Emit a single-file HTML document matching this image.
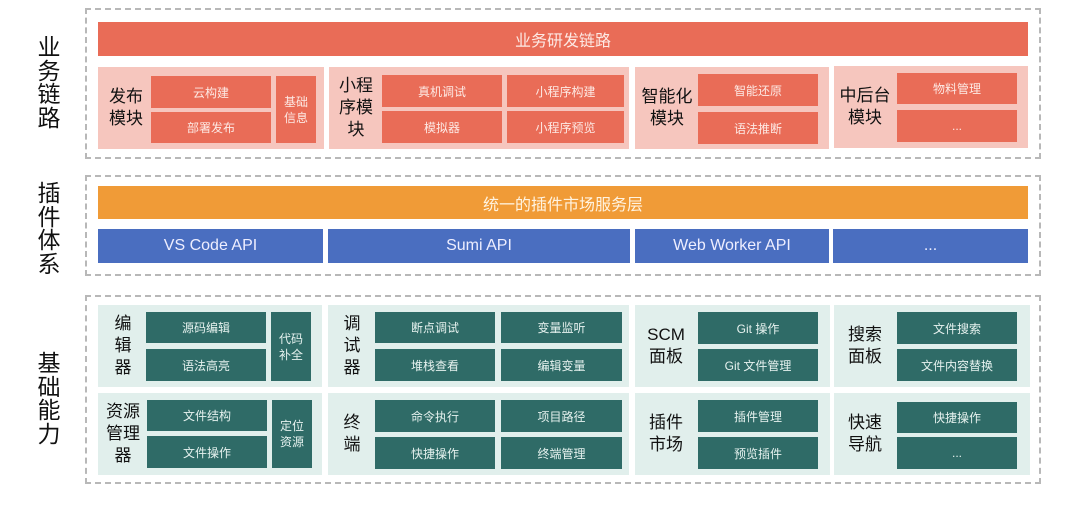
<!DOCTYPE html>
<html><head><meta charset="utf-8"><style>
body{margin:0;width:1079px;height:530px;background:#fff;position:relative;overflow:hidden;font-family:"Liberation Sans","Noto Sans CJK SC",sans-serif}
div{position:absolute;box-sizing:border-box}
.c{display:flex;align-items:center;justify-content:center;text-align:center}
.dash{border:2px dashed #b8b8b8}
.side{left:34px;width:30px;font-size:23px;line-height:23.5px;color:#111;text-align:center}
.r{background:#e96c57;color:#fde9e4;font-size:12px}
.pk{background:#f6c6be}
.t{background:#2f6b67;color:#e6f2ef;font-size:12px}
.lt{background:#e1efec}
.b{background:#4a6ec0;color:#eef;font-size:16px}
.lab{font-size:17px;line-height:22px;color:#111}
</style></head><body>
<div class="side" style="top:36px">业<br>务<br>链<br>路</div>
<div class="side" style="top:182px">插<br>件<br>体<br>系</div>
<div class="side" style="top:352px">基<br>础<br>能<br>力</div>

<div class="dash" style="left:85px;top:8px;width:956px;height:151px"></div>
<div class="dash" style="left:85px;top:175px;width:956px;height:101px"></div>
<div class="dash" style="left:85px;top:295px;width:956px;height:189px"></div>

<div class="c r" style="left:98px;top:22px;width:930px;height:34px;font-size:16px">业务研发链路</div>
<div class="pk" style="left:98px;top:67px;width:226px;height:82px"></div>
<div class="c lab" style="left:102px;top:67px;width:48px;height:82px">发布<br>模块</div>
<div class="c r" style="left:151px;top:76px;width:120px;height:32px">云构建</div>
<div class="c r" style="left:151px;top:112px;width:120px;height:31px">部署发布</div>
<div class="c r" style="left:276px;top:76px;width:40px;height:67px;line-height:16px">基础<br>信息</div>

<div class="pk" style="left:329px;top:67px;width:300px;height:82px"></div>
<div class="c lab" style="left:331px;top:67px;width:50px;height:82px">小程<br>序模<br>块</div>
<div class="c r" style="left:382px;top:75px;width:120px;height:32px">真机调试</div>
<div class="c r" style="left:507px;top:75px;width:117px;height:32px">小程序构建</div>
<div class="c r" style="left:382px;top:111px;width:120px;height:32px">模拟器</div>
<div class="c r" style="left:507px;top:111px;width:117px;height:32px">小程序预览</div>

<div class="pk" style="left:635px;top:67px;width:194px;height:82px"></div>
<div class="c lab" style="left:638px;top:67px;width:58px;height:82px">智能化<br>模块</div>
<div class="c r" style="left:698px;top:74px;width:120px;height:32px">智能还原</div>
<div class="c r" style="left:698px;top:112px;width:120px;height:32px">语法推断</div>

<div class="pk" style="left:834px;top:66px;width:194px;height:82px"></div>
<div class="c lab" style="left:836px;top:66px;width:58px;height:82px">中后台<br>模块</div>
<div class="c r" style="left:897px;top:73px;width:120px;height:31px">物料管理</div>
<div class="c r" style="left:897px;top:110px;width:120px;height:32px">...</div>

<div class="c" style="left:98px;top:186px;width:930px;height:33px;background:#f09b37;color:#fff3e0;font-size:16px">统一的插件市场服务层</div>
<div class="c b" style="left:98px;top:229px;width:225px;height:34px">VS Code API</div>
<div class="c b" style="left:328px;top:229px;width:302px;height:34px">Sumi API</div>
<div class="c b" style="left:635px;top:229px;width:194px;height:34px">Web Worker API</div>
<div class="c b" style="left:833px;top:229px;width:195px;height:34px">...</div>

<!-- base -->
<div class="lt" style="left:98px;top:305px;width:224px;height:82px"></div>
<div class="c lab" style="left:100px;top:305px;width:46px;height:82px">编<br>辑<br>器</div>
<div class="c t" style="left:146px;top:312px;width:120px;height:31px">源码编辑</div>
<div class="c t" style="left:146px;top:349px;width:120px;height:32px">语法高亮</div>
<div class="c t" style="left:271px;top:312px;width:40px;height:69px;line-height:16px">代码<br>补全</div>

<div class="lt" style="left:98px;top:393px;width:224px;height:82px"></div>
<div class="c lab" style="left:100px;top:393px;width:46px;height:82px">资源<br>管理<br>器</div>
<div class="c t" style="left:147px;top:400px;width:120px;height:31px">文件结构</div>
<div class="c t" style="left:147px;top:436px;width:120px;height:32px">文件操作</div>
<div class="c t" style="left:272px;top:400px;width:40px;height:68px;line-height:16px">定位<br>资源</div>

<div class="lt" style="left:328px;top:305px;width:301px;height:82px"></div>
<div class="c lab" style="left:336px;top:305px;width:32px;height:82px">调<br>试<br>器</div>
<div class="c t" style="left:375px;top:312px;width:120px;height:31px">断点调试</div>
<div class="c t" style="left:501px;top:312px;width:121px;height:31px">变量监听</div>
<div class="c t" style="left:375px;top:349px;width:120px;height:32px">堆栈查看</div>
<div class="c t" style="left:501px;top:349px;width:121px;height:32px">编辑变量</div>

<div class="lt" style="left:328px;top:393px;width:301px;height:82px"></div>
<div class="c lab" style="left:336px;top:393px;width:32px;height:82px">终<br>端</div>
<div class="c t" style="left:375px;top:400px;width:120px;height:32px">命令执行</div>
<div class="c t" style="left:501px;top:400px;width:121px;height:32px">项目路径</div>
<div class="c t" style="left:375px;top:437px;width:120px;height:32px">快捷操作</div>
<div class="c t" style="left:501px;top:437px;width:121px;height:32px">终端管理</div>

<div class="lt" style="left:635px;top:305px;width:195px;height:82px"></div>
<div class="c lab" style="left:638px;top:305px;width:56px;height:82px">SCM<br>面板</div>
<div class="c t" style="left:698px;top:312px;width:120px;height:32px">Git 操作</div>
<div class="c t" style="left:698px;top:349px;width:120px;height:32px">Git 文件管理</div>

<div class="lt" style="left:635px;top:393px;width:195px;height:82px"></div>
<div class="c lab" style="left:638px;top:393px;width:56px;height:82px">插件<br>市场</div>
<div class="c t" style="left:698px;top:400px;width:120px;height:32px">插件管理</div>
<div class="c t" style="left:698px;top:437px;width:120px;height:32px">预览插件</div>

<div class="lt" style="left:834px;top:305px;width:196px;height:82px"></div>
<div class="c lab" style="left:836px;top:305px;width:58px;height:82px">搜索<br>面板</div>
<div class="c t" style="left:897px;top:312px;width:120px;height:32px">文件搜索</div>
<div class="c t" style="left:897px;top:349px;width:120px;height:32px">文件内容替换</div>

<div class="lt" style="left:834px;top:393px;width:196px;height:82px"></div>
<div class="c lab" style="left:836px;top:393px;width:58px;height:82px">快速<br>导航</div>
<div class="c t" style="left:897px;top:402px;width:120px;height:31px">快捷操作</div>
<div class="c t" style="left:897px;top:437px;width:120px;height:32px">...</div>
</body></html>
